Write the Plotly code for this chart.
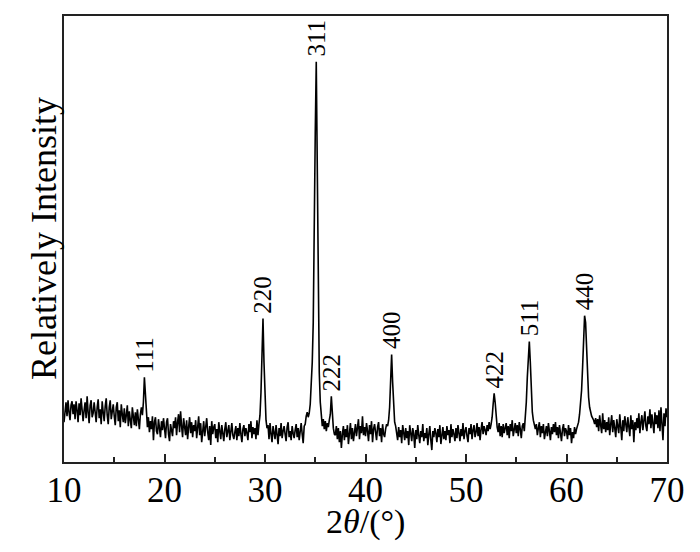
"""XRD pattern of the spinel sample with indexed reflections."""

import numpy as np
import plotly.graph_objects as go

# 2theta grid, 0.1 degree step from 10 to 70
two_theta = np.round(np.arange(10.0, 70.05, 0.1), 1)

# relative intensity (arbitrary units), one row per degree
intensity = [
    40, 56, 60, 46, 62, 50, 42, 57, 61, 48,    # 10
    58, 43, 61, 52, 40, 59, 47, 64, 54, 41,    # 11
    52, 60, 44, 66, 50, 39, 57, 62, 45, 49,    # 12
    60, 48, 40, 55, 63, 44, 53, 38, 61, 50,    # 13
    41, 56, 64, 47, 38, 55, 62, 43, 52, 58,    # 14
    46, 37, 55, 60, 41, 52, 35, 58, 48, 40,    # 15
    54, 39, 47, 57, 36, 51, 42, 34, 55, 45,    # 16
    37, 50, 36, 53, 41, 33, 48, 55, 47, 60,    # 17
    85, 66, 46, 35, 45, 30, 41, 33, 46, 22,    # 18
    40, 45, 31, 28, 43, 36, 25, 41, 32, 44,    # 19
    33, 24, 40, 44, 28, 21, 38, 31, 26, 41,    # 20
    34, 45, 27, 40, 48, 30, 51, 36, 25, 44,    # 21
    37, 27, 42, 23, 35, 45, 29, 40, 25, 37,    # 22
    31, 42, 24, 36, 46, 27, 39, 20, 34, 41,    # 23
    26, 38, 44, 30, 22, 36, 17, 41, 28, 35,    # 24
    38, 24, 33, 20, 40, 31, 23, 37, 27, 21,    # 25
    33, 40, 25, 30, 37, 22, 32, 39, 27, 23,    # 26
    30, 36, 22, 34, 26, 39, 28, 20, 33, 37,    # 27
    26, 34, 29, 22, 38, 30, 41, 24, 35, 28,    # 28
    34, 23, 42, 27, 38, 47, 70, 120, 144, 100,  # 29
    60, 42, 34, 37, 23, 39, 28, 20, 36, 29,    # 30
    23, 37, 28, 18, 34, 26, 39, 24, 31, 36,    # 31
    28, 21, 35, 40, 25, 31, 22, 36, 29, 24,    # 32
    32, 38, 25, 34, 22, 30, 39, 28, 19, 36,    # 33
    38, 46, 50, 45, 49, 58, 75, 100, 140, 210,  # 34
    330, 402, 280, 150, 90, 60, 45, 36, 43, 33,  # 35
    41, 31, 39, 35, 42, 48, 66, 48, 34, 28,    # 36
    27, 36, 23, 34, 20, 31, 14, 28, 36, 22,    # 37
    33, 25, 37, 18, 29, 39, 23, 34, 21, 31,    # 38
    38, 26, 34, 43, 23, 36, 29, 46, 27, 35,    # 39
    26, 39, 31, 21, 37, 28, 41, 20, 33, 38,    # 40
    30, 22, 35, 40, 26, 34, 20, 38, 28, 25,    # 41
    33, 38, 36, 42, 55, 85, 108, 80, 52, 40,   # 42
    36, 28, 22, 35, 25, 32, 19, 37, 28, 22,    # 43
    34, 24, 31, 17, 37, 27, 21, 34, 28, 14,    # 44
    32, 23, 37, 27, 19, 31, 25, 38, 21, 29,    # 45
    24, 34, 17, 28, 36, 22, 12, 31, 25, 34,    # 46
    29, 20, 33, 25, 37, 18, 28, 35, 23, 31,    # 47
    22, 36, 27, 32, 19, 38, 25, 33, 28, 21,    # 48
    34, 24, 37, 29, 21, 33, 26, 39, 23, 31,    # 49
    35, 26, 20, 34, 28, 38, 23, 32, 37, 25,    # 50
    30, 39, 26, 35, 22, 33, 40, 28, 36, 32,    # 51
    27, 37, 31, 40, 33, 38, 45, 58, 69, 60,    # 52
    42, 35, 30, 39, 26, 36, 25, 38, 29, 34,    # 53
    39, 27, 36, 24, 38, 31, 42, 26, 34, 39,    # 54
    29, 37, 26, 40, 33, 24, 36, 39, 31, 45,    # 55
    60, 85, 112, 121, 100, 70, 50, 42, 36, 33,  # 56
    38, 27, 34, 40, 25, 36, 29, 38, 23, 33,    # 57
    36, 26, 39, 31, 22, 35, 28, 38, 30, 40,    # 58
    27, 35, 24, 37, 29, 21, 33, 38, 26, 34,    # 59
    31, 23, 37, 27, 34, 19, 30, 24, 35, 28,    # 60
    33, 36, 40, 48, 58, 72, 95, 125, 147, 140,  # 61
    110, 82, 65, 55, 50, 46, 44, 42, 38, 44,   # 62
    35, 43, 31, 47, 37, 29, 49, 33, 42, 30,    # 63
    40, 32, 45, 27, 38, 47, 30, 42, 34, 25,    # 64
    43, 33, 29, 48, 37, 22, 42, 31, 46, 36,    # 65
    30, 45, 37, 26, 47, 33, 42, 20, 40, 32,    # 66
    44, 34, 49, 29, 40, 47, 32, 44, 51, 36,    # 67
    31, 46, 38, 53, 34, 48, 40, 29, 50, 38,    # 68
    47, 34, 52, 31, 55, 40, 22, 49, 36, 54,    # 69
    45,                                        # 70
]

# indexed reflections
hkl = ["111", "220", "311", "222", "400", "422", "511", "440"]
peak_pos = [18.0, 29.8, 35.1, 36.6, 42.6, 52.8, 56.3, 61.8]

FONT = "Liberation Serif, Times New Roman, serif"

fig = go.Figure(go.Scatter(
    x=two_theta,
    y=intensity,
    mode="lines",
    line=dict(color="black", width=1.6),
    showlegend=False,
))

for label, pos in zip(hkl, peak_pos):
    idx = int(np.argmin(np.abs(two_theta - pos)))
    fig.add_annotation(
        x=pos, y=intensity[idx],
        text=label, textangle=-90,
        showarrow=False,
        xanchor="center", yanchor="bottom", yshift=3,
        font=dict(family=FONT, size=25, color="black"),
    )

# axis titles as annotations so they sit where the original has them
fig.add_annotation(
    x=0.5, y=0, xref="paper", yref="paper",
    text="2<i>θ</i>/(°)", showarrow=False,
    xanchor="center", yanchor="middle", yshift=-60,
    font=dict(family=FONT, size=34, color="black"),
)
fig.add_annotation(
    x=0, y=0.5, xref="paper", yref="paper",
    text="Relatively Intensity", textangle=-90, showarrow=False,
    xanchor="right", yanchor="middle", xshift=2,
    font=dict(family=FONT, size=36, color="black"),
)

# page body has an 8px margin, so the figure is a bit smaller than the window
fig.update_layout(
    width=692, height=544,
    margin=dict(l=56, r=33, t=6, b=90),
    plot_bgcolor="white", paper_bgcolor="white",
    font=dict(family=FONT, color="black"),
)
fig.update_xaxes(
    range=[10, 70], dtick=10, tick0=10,
    ticks="inside", ticklen=8, tickwidth=1.5, tickcolor="#222",
    minor=dict(ticks="inside", ticklen=5, tickwidth=1.5, dtick=5, tickcolor="#222"),
    showline=True, linewidth=2, linecolor="#222", mirror=True,
    showgrid=False, zeroline=False,
    tickfont=dict(size=35), ticklabelstandoff=-4,
)
fig.update_yaxes(
    range=[0, 448],
    showticklabels=False, ticks="",
    showline=True, linewidth=2, linecolor="#222", mirror=True,
    showgrid=False, zeroline=False,
)

fig.write_html("out.html")
